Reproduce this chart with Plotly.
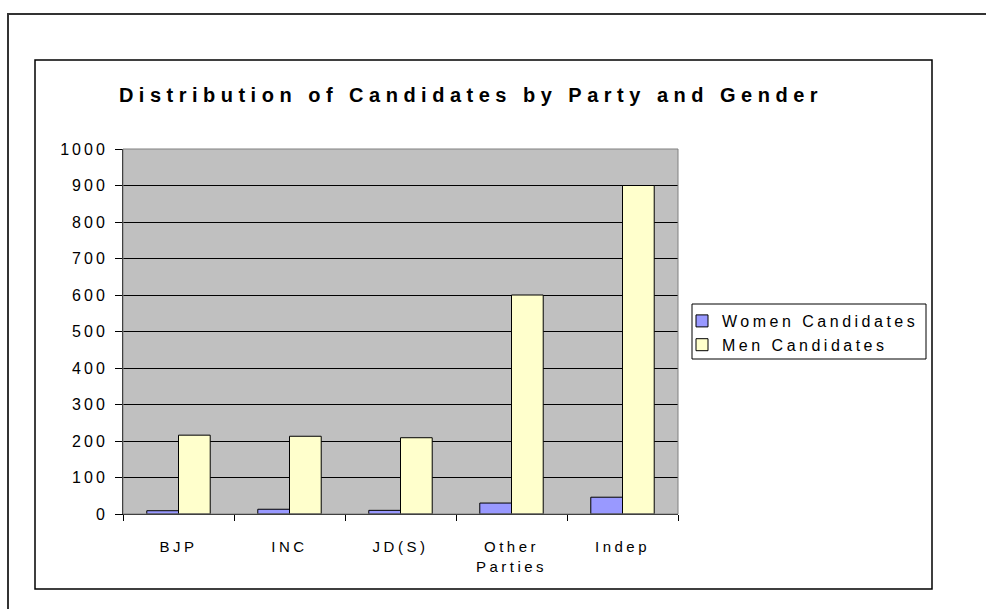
import plotly.graph_objects as go

# ---- data ----
categories = ["BJP", "INC", "JD(S)", "Other<br>Parties", "Indep"]
women_candidates = [9, 13, 10, 30, 46]
men_candidates = [216, 213, 209, 600, 900]
series_names = ["Women Candidates", "Men Candidates"]
chart_title = "Distribution of Candidates by Party and Gender"

# ---- layout geometry (pixels) ----
W, H = 986, 609
PL, PR, PT, PB = 123, 678, 149, 514  # plot area


def px_x(x):
    return (x - PL) / (PR - PL)


def px_y(y):
    return (PB - y) / (PB - PT)


FONT = "Liberation Sans, Arial, sans-serif"

fig = go.Figure()
fig.add_bar(
    x=categories, y=women_candidates, name=series_names[0],
    marker=dict(color="#9999FF", line=dict(color="black", width=1)),
)
fig.add_bar(
    x=categories, y=men_candidates, name=series_names[1],
    marker=dict(color="#FFFFCC", line=dict(color="black", width=1)),
)


def rect(x0, y0, x1, y1, color, width):
    return dict(
        type="rect", xref="paper", yref="paper",
        x0=px_x(x0), x1=px_x(x1), y0=px_y(y1), y1=px_y(y0),
        line=dict(color=color, width=width), fillcolor="rgba(0,0,0,0)",
        layer="above",
    )


shapes = [
    rect(8, 14, 1000, 625, "#333333", 2),      # outer frame
    rect(35, 60, 932, 589, "black", 1.5),      # chart area frame
    rect(PL, PT, PR, PB, "#808080", 1),        # plot area border
    rect(692, 304, 926, 359, "black", 1),      # legend frame
]

fig.update_layout(
    width=W, height=H,
    margin=dict(l=PL, r=W - PR, t=PT, b=H - PB, pad=0),
    paper_bgcolor="white",
    plot_bgcolor="#C0C0C0",
    font=dict(family=FONT, size=16, color="black"),
    barmode="group",
    bargap=1.5 / 3.5,
    bargroupgap=0,
    title=dict(
        text=chart_title, xref="container", yref="container",
        x=471 / W, xanchor="center", y=1 - 95 / H, yanchor="middle",
        font=dict(family=FONT, size=20, color="black", weight=700),
    ),
    legend=dict(
        x=px_x(682), y=px_y(304), xanchor="left", yanchor="top",
        bgcolor="rgba(0,0,0,0)", borderwidth=0,
        font=dict(family=FONT, size=16, color="black"),
        tracegroupgap=0,
    ),
    shapes=shapes,
    showlegend=True,
)

fig.update_xaxes(
    showgrid=False, showline=True, linecolor="black", linewidth=1,
    ticks="outside", tickson="boundaries", ticklen=6, tickcolor="black",
    ticklabelstandoff=19, mirror=False, tickfont=dict(size=15),
)
fig.update_yaxes(
    range=[0, 1000], dtick=100, tick0=0,
    showgrid=True, gridcolor="black", gridwidth=1,
    showline=True, linecolor="black", linewidth=1,
    ticks="outside", ticklen=7, tickcolor="black",
    ticklabelstandoff=4, zeroline=False,
)

post = """
document.body.style.margin = '0';
document.body.style.padding = '0';
var gd = document.getElementById('{plot_id}');
function sp(){
  gd.querySelectorAll('.gtitle').forEach(function(t){ t.style.letterSpacing='5.5px'; });
  gd.querySelectorAll('.xtick text').forEach(function(t){ t.style.letterSpacing='3.5px'; });
  gd.querySelectorAll('.ytick text').forEach(function(t){ t.style.letterSpacing='3px'; });
  gd.querySelectorAll('.legendtext').forEach(function(t){ t.style.letterSpacing='3.5px'; });
  gd.querySelectorAll('.legend [clip-path]').forEach(function(e){ e.removeAttribute('clip-path'); });
}
sp();
setTimeout(sp, 30);
if (gd.on) { gd.on('plotly_afterplot', sp); }
"""

fig.write_html("out.html", post_script=post, config={"displayModeBar": False})
